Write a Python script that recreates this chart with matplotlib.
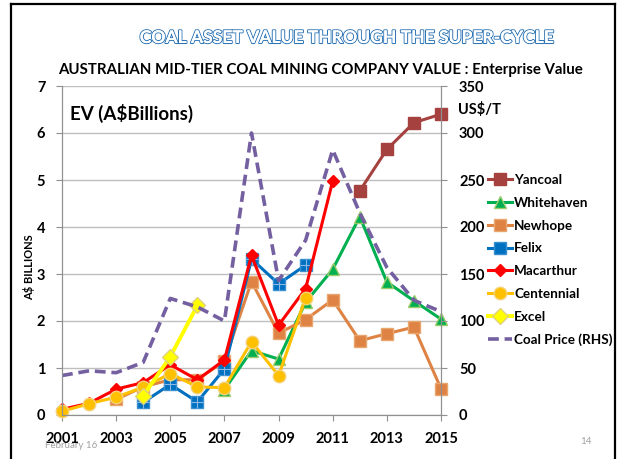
import numpy as np
import matplotlib
matplotlib.use("Agg")
import matplotlib.pyplot as plt
from matplotlib.lines import Line2D
import matplotlib.patheffects as pe

nan = np.nan
years = list(range(2001, 2016))
yancoal    = [nan]*11 + [4.77, 5.65, 6.22, 6.40]
whitehaven = [nan]*6 + [0.54, 1.37, 1.19, 2.40, 3.10, 4.22, 2.83, 2.43, 2.04]
newhope    = [nan]*2 + [0.33, 0.60, 0.75, 0.75, 1.15, 2.84, 1.74, 2.03, 2.45, 1.58, 1.73, 1.87, 0.56]
felix      = [nan]*3 + [0.27, 0.65, 0.28, 0.98, 3.32, 2.79, 3.19] + [nan]*5
macarthur  = [0.12, 0.25, 0.55, 0.69, 1.07, 0.75, 1.17, 3.40, 1.91, 2.69, 4.98] + [nan]*4
centennial = [0.08, 0.24, 0.38, 0.59, 0.88, 0.60, 0.58, 1.56, 0.84, 2.49] + [nan]*5
excel      = [nan]*3 + [0.41, 1.24, 2.33] + [nan]*9
coal_price = [42, 47, 45, 56, 124, 115, 100, 300, 143, 186, 282, 215, 157, 122, 110]

left_ticks = list(range(0, 8))
right_ticks = list(range(0, 351, 50))
x_ticks = list(range(2001, 2016, 2))

FONT = "Lato"
plt.rcParams['font.family'] = [FONT, 'DejaVu Sans']

fig = plt.figure(figsize=(6.21, 4.59), dpi=100)
fig.patch.set_facecolor('white')

W, H = 621, 459
def fx(px): return px / W
def fy(py): return 1 - py / H
fig.add_artist(Line2D([fx(11), fx(11)], [fy(4), 0], color='black', lw=1.6))
fig.add_artist(Line2D([fx(11), fx(615)], [fy(4), fy(4)], color='black', lw=1.6))
fig.add_artist(Line2D([fx(615), fx(615)], [fy(4), 0], color='black', lw=1.6))

t = fig.text(fx(346), fy(38), "COAL ASSET VALUE THROUGH THE SUPER-CYCLE", ha='center', va='center',
             fontsize=12.6, color='white', fontweight='bold', family=FONT)
t.set_path_effects([pe.withStroke(linewidth=1.5, foreground='#2E75B6'), pe.Normal()])
fig.text(fx(320), fy(70), "AUSTRALIAN MID-TIER COAL MINING COMPANY VALUE : Enterprise Value",
         ha='center', va='center', fontsize=10.8, fontweight='bold', color='black')

ax = fig.add_axes([fx(62), fy(415), fx(441) - fx(62), fy(86) - fy(415)])
ax.set_xlim(2001, 2015)
ax.set_ylim(0, 7)
ax.set_yticks(left_ticks)
ax.set_xticks(x_ticks)
ax.grid(axis='y', color='#BFBFBF', lw=1.0)
ax.set_axisbelow(True)
ax.spines['top'].set_visible(False)
for s in ['left', 'right', 'bottom']:
    ax.spines[s].set_color('#909090')
ax.tick_params(axis='both', colors='#909090', labelcolor='black', length=4, labelsize=10.5)
ax.tick_params(axis='y', pad=8)
ax.tick_params(axis='x', pad=8)
for lab in ax.get_xticklabels() + ax.get_yticklabels():
    lab.set_fontweight('bold')
ax.set_ylabel(r"A\$ BILLIONS", fontsize=8, fontweight='bold')
ax.yaxis.set_label_coords(-0.072, 0.45)

ax.text(0.022, 0.915, r"EV (A\$Billions)", transform=ax.transAxes, fontsize=13.5,
        fontweight='bold', va='center', ha='left')

lw = 2.2
kw = dict(clip_on=False)
h_yan, = ax.plot(years, yancoal, color='#A5423F', lw=lw, marker='s', ms=8, mec='#A5423F', label='Yancoal', **kw)
h_wh, = ax.plot(years, whitehaven, color='#00B050', lw=lw, marker='^', ms=8.5, mec='#9BCB6B', label='Whitehaven', **kw)
h_nh, = ax.plot(years, newhope, color='#DE8344', lw=lw, marker='s', ms=8, mec='#E9A66F', label='Newhope', **kw)
h_fx, = ax.plot(years, felix, color='#0070C0', lw=lw, marker='s', ms=8, mec='#3A8FD0', label='Felix', **kw)
ax.plot(years, felix, lw=0, marker='+', ms=8, mew=0.8, color='#8CB8E6', **kw)
h_mc, = ax.plot(years, macarthur, color='#FF0000', lw=lw, marker='D', ms=6, mec='#FF0000', label='Macarthur', **kw)
h_ce, = ax.plot(years, centennial, color='#FFC000', lw=lw, marker='o', ms=9, mec='#F3D27A', label='Centennial', **kw)
h_ex, = ax.plot(years, excel, color='#FFFF00', lw=lw+0.6, marker='D', ms=8, mec='#E0D080', label='Excel', **kw)

ax2 = ax.twinx()
ax2.set_ylim(0, 350)
ax2.set_yticks(right_ticks)
ax2.spines['top'].set_visible(False)
for s in ['left', 'right', 'bottom']:
    ax2.spines[s].set_color('#909090')
ax2.tick_params(axis='y', colors='#909090', labelcolor='black', length=4, labelsize=10.5, pad=9)
for lab in ax2.get_yticklabels():
    lab.set_fontweight('bold')
h_cp, = ax2.plot(years, coal_price, color='#7460A0', lw=2.6, ls=(0, (3.0, 1.6)), label='Coal Price (RHS)')

fig.text(fx(458), fy(110), r"US\$/T", fontsize=10.5, fontweight='bold', va='center', ha='left')

handles = [h_yan, h_wh, h_nh, h_fx, h_mc, h_ce, h_ex, h_cp]
leg = fig.legend(handles=handles, loc='upper left', bbox_to_anchor=(fx(488), fy(174)),
                 frameon=False, prop={'weight': 'bold', 'size': 9.7}, handlelength=1.8,
                 handletextpad=0.15, labelspacing=0.8, borderaxespad=0, borderpad=0)

fig.text(fx(45), fy(445), "February 16", fontsize=7, color='#A0A0A0', va='center')
fig.text(fx(580), fy(442), "14", fontsize=7, color='#A0A0A0', va='center')

fig.savefig("out.png", dpi=100, facecolor='white')
